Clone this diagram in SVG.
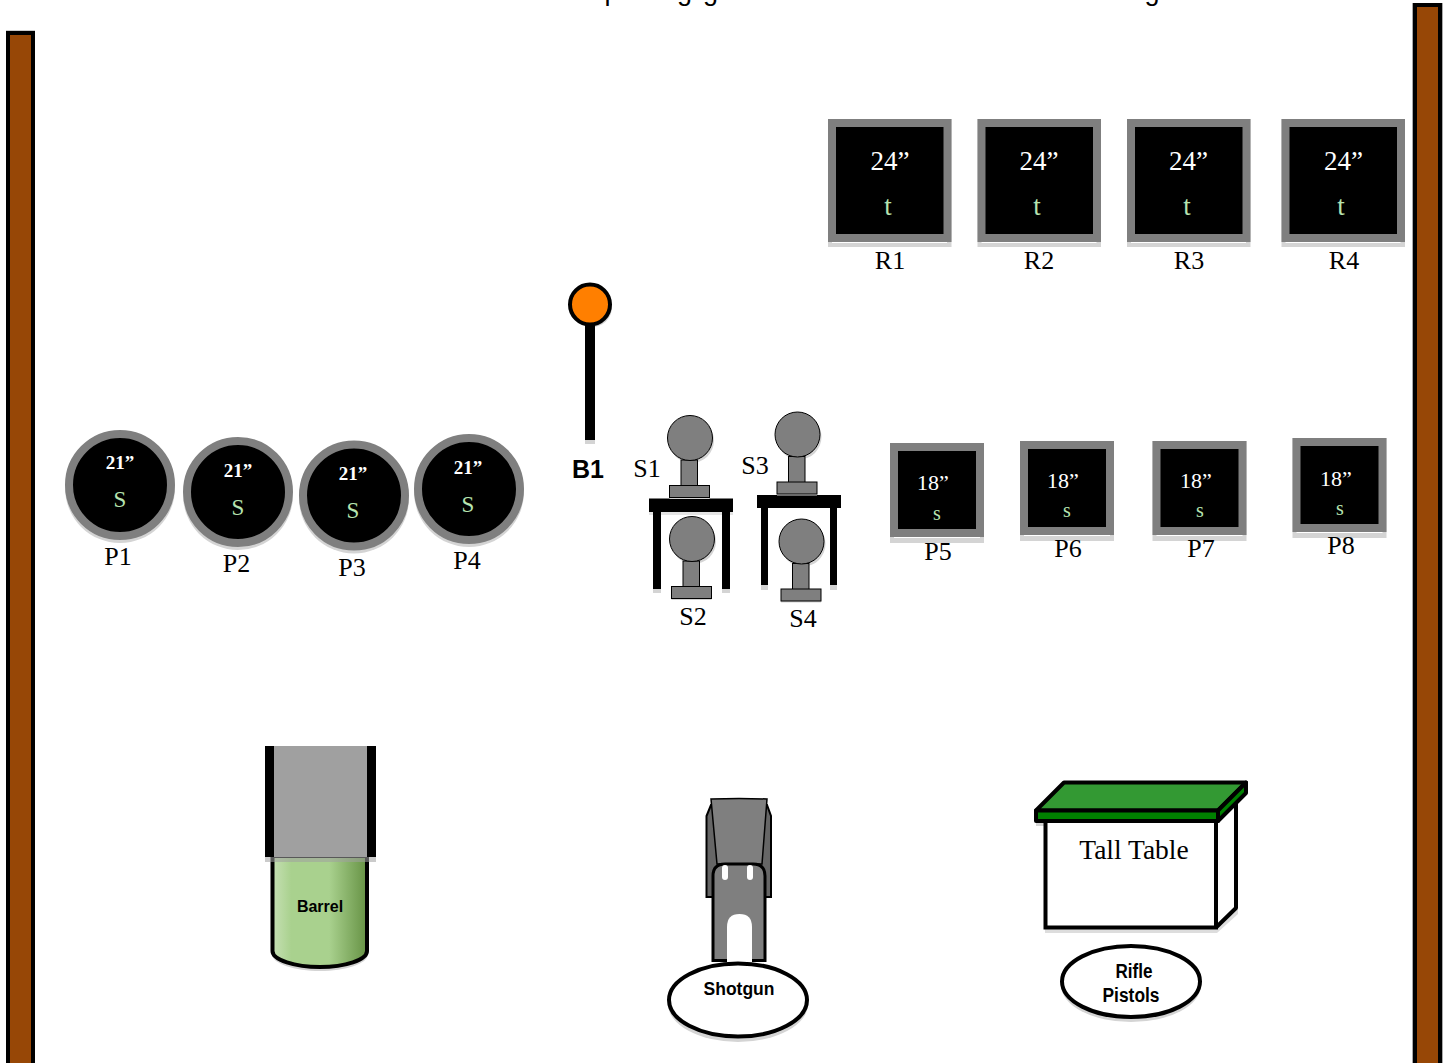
<svg xmlns="http://www.w3.org/2000/svg" width="1449" height="1063" viewBox="0 0 1449 1063">
<defs>
<linearGradient id="barrelFill" x1="0" x2="1" y1="0" y2="0">
<stop offset="0" stop-color="#c6e0b4"/><stop offset="0.2" stop-color="#a9d18e"/><stop offset="0.6" stop-color="#a9d18e"/><stop offset="1" stop-color="#669244"/>
</linearGradient>
<g id="sq24"><rect x="-62" y="0" width="123.500" height="128" fill="#d4d4d4"/><rect x="-58" y="123" width="115" height="1" fill="#fff"/><rect x="-58" y="4" width="115.500" height="115" fill="#000" stroke="#7f7f7f" stroke-width="8"/></g>
<g id="sq18"><rect x="-47" y="0" width="94" height="100" fill="#d4d4d4"/><rect x="-43" y="94" width="86" height="1" fill="#fff"/><rect x="-43" y="4" width="86" height="86" fill="#000" stroke="#7f7f7f" stroke-width="8"/></g>
<g id="plate"><circle cx="0" cy="3" r="55" fill="#d4d4d4"/><circle cx="0" cy="0" r="51" fill="#000" stroke="#7f7f7f" stroke-width="8"/></g>
<g id="stand"><circle cx="1.500" cy="2.500" r="22.500" fill="#d4d4d4"/><rect x="-20.500" y="48" width="40" height="13" fill="#d4d4d4"/><rect x="-9" y="22" width="16.500" height="26" fill="#7f7f7f" stroke="#000"/><rect x="-20.500" y="47.500" width="40" height="12" fill="#7f7f7f" stroke="#000"/><circle cx="0" cy="0" r="22.500" fill="#7f7f7f" stroke="#000"/></g>
</defs>
<style>
.ser{font-family:"Liberation Serif",serif;text-anchor:middle}
.san{font-family:"Liberation Sans",sans-serif;text-anchor:middle}
.lbl{font-size:26px;fill:#000}
.w24{font-size:27px;fill:#fff}
.t24{font-size:27px;fill:#b7e4b0}
.w18{font-size:22px;fill:#fff}
.s18{font-size:20px;fill:#b7e4b0}
.w21{font-size:19px;fill:#fff;font-weight:bold}
.s21{font-size:23px;fill:#b7e4b0}
</style>
<g id="connectors"></g>
<text id="title-p" x="612" y="0" class="san" font-size="27" fill="#000">p</text>
<text id="title-gg" x="703" y="0" class="san" font-size="27" fill="#000" letter-spacing="11">gg</text>
<text id="title-g" x="1152" y="0" class="san" font-size="27" fill="#000">g</text>
<g id="wall-left"><rect x="6" y="30" width="29" height="1040" fill="#ccc"/><rect x="8" y="33" width="25" height="1040" fill="#974706" stroke="#000" stroke-width="4"/></g>
<g id="wall-right"><rect x="1412" y="3" width="31" height="1070" fill="#aaa"/><rect x="1415" y="5" width="25" height="1070" fill="#974706" stroke="#000" stroke-width="4"/></g>
<g id="R1"><use href="#sq24" x="890" y="119"/><text x="890" y="170" class="ser w24">24”</text><text x="888" y="215" class="ser t24">t</text><text x="890" y="269" class="ser lbl">R1</text></g>
<g id="R2"><use href="#sq24" x="1039.500" y="119"/><text x="1039" y="170" class="ser w24">24”</text><text x="1037" y="215" class="ser t24">t</text><text x="1039" y="269" class="ser lbl">R2</text></g>
<g id="R3"><use href="#sq24" x="1189" y="119"/><text x="1188.500" y="170" class="ser w24">24”</text><text x="1187" y="215" class="ser t24">t</text><text x="1189" y="269" class="ser lbl">R3</text></g>
<g id="R4"><use href="#sq24" x="1343.500" y="119"/><text x="1343.500" y="170" class="ser w24">24”</text><text x="1341" y="215" class="ser t24">t</text><text x="1344" y="269" class="ser lbl">R4</text></g>
<g id="B1"><circle cx="592" cy="307" r="20" fill="#d4d4d4"/><rect x="585" y="322" width="10" height="122" fill="#d4d4d4"/><rect x="585" y="322" width="10" height="118" fill="#000"/><circle cx="590" cy="304.500" r="20" fill="#ff7f00" stroke="#000" stroke-width="4"/><text x="588" y="478" class="san" font-size="25" font-weight="bold" fill="#000">B1</text></g>
<g id="P1"><use href="#plate" x="120" y="485"/><text x="120" y="469" class="ser w21">21”</text><text x="120" y="507" class="ser s21">S</text><text x="118" y="565" class="ser lbl">P1</text></g>
<g id="P2"><use href="#plate" x="238" y="492"/><text x="238" y="477" class="ser w21">21”</text><text x="238" y="515" class="ser s21">S</text><text x="236.500" y="572" class="ser lbl">P2</text></g>
<g id="P3"><use href="#plate" x="354" y="495.500"/><text x="353" y="480" class="ser w21">21”</text><text x="353" y="518" class="ser s21">S</text><text x="352" y="576" class="ser lbl">P3</text></g>
<g id="P4"><use href="#plate" x="469" y="489"/><text x="468" y="474" class="ser w21">21”</text><text x="468" y="512" class="ser s21">S</text><text x="467" y="569" class="ser lbl">P4</text></g>
<g id="table-left"><rect x="653" y="510" width="8" height="83" fill="#d4d4d4"/><rect x="722" y="510" width="8" height="83" fill="#d4d4d4"/><rect x="649" y="510" width="84" height="5" fill="#e4e4e4"/><rect x="653" y="505" width="8" height="84" fill="#000"/><rect x="722" y="505" width="8" height="84" fill="#000"/><rect x="649" y="498.500" width="84" height="13.500" fill="#000"/></g>
<g id="table-right"><rect x="761" y="510" width="7" height="80" fill="#d4d4d4"/><rect x="830" y="510" width="7" height="80" fill="#d4d4d4"/><rect x="761" y="502" width="7" height="83" fill="#000"/><rect x="830" y="502" width="7" height="83" fill="#000"/><rect x="757" y="495" width="84" height="13" fill="#000"/></g>
<g id="S1"><use href="#stand" x="690" y="438"/><text x="647" y="477" class="ser lbl">S1</text></g>
<g id="S2"><use href="#stand" x="692" y="539"/><text x="693" y="625" class="ser lbl">S2</text></g>
<g id="S3"><use href="#stand" x="797.500" y="434.500"/><text x="755" y="474" class="ser lbl">S3</text></g>
<g id="S4"><use href="#stand" x="801.500" y="541.500"/><text x="803" y="627" class="ser lbl">S4</text></g>
<g id="P5"><use href="#sq18" x="937" y="443"/><text x="933" y="490" class="ser w18">18”</text><text x="937" y="520" class="ser s18">s</text><text x="938" y="560" class="ser lbl">P5</text></g>
<g id="P6"><use href="#sq18" x="1067" y="441"/><text x="1063" y="488" class="ser w18">18”</text><text x="1067" y="517" class="ser s18">s</text><text x="1068" y="557" class="ser lbl">P6</text></g>
<g id="P7"><use href="#sq18" x="1199.500" y="441"/><text x="1196" y="488" class="ser w18">18”</text><text x="1200" y="517" class="ser s18">s</text><text x="1201" y="557" class="ser lbl">P7</text></g>
<g id="P8"><use href="#sq18" x="1339.500" y="438"/><text x="1336" y="486" class="ser w18">18”</text><text x="1340" y="515" class="ser s18">s</text><text x="1341" y="554" class="ser lbl">P8</text></g>
<g id="barrel"><path d="M272 860V954C272 964 295 971 320 971S368 964 368 954V860Z" fill="#d4d4d4"/><path d="M272.500 856V951C272.500 960 295 967 320 967S367 960 367 951V856Z" fill="url(#barrelFill)" stroke="#000" stroke-width="4"/><rect x="265" y="746" width="111" height="111" fill="#000"/><rect x="274" y="746" width="93" height="111" fill="#a0a0a0"/><rect x="265" y="857" width="111" height="5" fill="#a0a0a0" opacity=".55"/><text x="320" y="912" class="san" font-size="16" font-weight="bold" fill="#000">Barrel</text></g>
<g id="shotgun"><path d="M711 805L706.500 816V897H771V816L767 805Z" fill="#666" stroke="#000" stroke-width="2"/><path d="M711 799Q739 798 767 799L762 864H717Z" fill="#7f7f7f" stroke="#000" stroke-width="1.500"/><path d="M713 960.500V876Q713 864 725 864H753Q765 864 765 876V960.500Z" fill="#7f7f7f" stroke="#000" stroke-width="3"/><path d="M727 962V927Q727 914 739.500 914Q752 914 752 927V962Z" fill="#fff"/><rect x="722" y="865" width="6" height="15" rx="3" fill="#fff"/><rect x="747" y="865" width="6" height="15" rx="3" fill="#fff"/><ellipse cx="738" cy="1004" rx="70" ry="38" fill="#d4d4d4"/><ellipse cx="738" cy="1000" rx="69" ry="36.500" fill="#fff" stroke="#000" stroke-width="4"/><text x="739" y="995" class="san" font-size="19" font-weight="bold" fill="#000" textLength="71" lengthAdjust="spacingAndGlyphs">Shotgun</text></g>
<g id="tall-table"><path d="M1045 820V933H1217L1238 914V800Z" fill="#d4d4d4" opacity=".8"/><path d="M1036 822H1218V826H1036Z" fill="#d4d4d4"/><path d="M1045.500 818H1216V927.500H1045.500Z" fill="#fff" stroke="#000" stroke-width="4"/><path d="M1216 820L1236 800V908L1216 927.500Z" fill="#fff" stroke="#000" stroke-width="4" stroke-linejoin="bevel"/><path d="M1036 810.500L1064 782.500H1246L1218 810.500Z" fill="#339933" stroke="#000" stroke-width="4" stroke-linejoin="round"/><path d="M1036 810.500H1218V821H1036Z" fill="#008000" stroke="#000" stroke-width="4" stroke-linejoin="round"/><path d="M1218 810.500L1246 782.500V793L1218 821Z" fill="#008000" stroke="#000" stroke-width="4" stroke-linejoin="round"/><text x="1134" y="859" class="ser" font-size="27.500" fill="#000">Tall Table</text></g>
<g id="rifle-pistols"><ellipse cx="1131" cy="985" rx="70" ry="37" fill="#d4d4d4"/><ellipse cx="1131" cy="981.500" rx="69" ry="35.500" fill="#fff" stroke="#000" stroke-width="4"/><text x="1134" y="978" class="san" font-size="20" font-weight="bold" fill="#000" textLength="37" lengthAdjust="spacingAndGlyphs">Rifle</text><text x="1131" y="1002" class="san" font-size="20" font-weight="bold" fill="#000" textLength="57" lengthAdjust="spacingAndGlyphs">Pistols</text></g>
</svg>
